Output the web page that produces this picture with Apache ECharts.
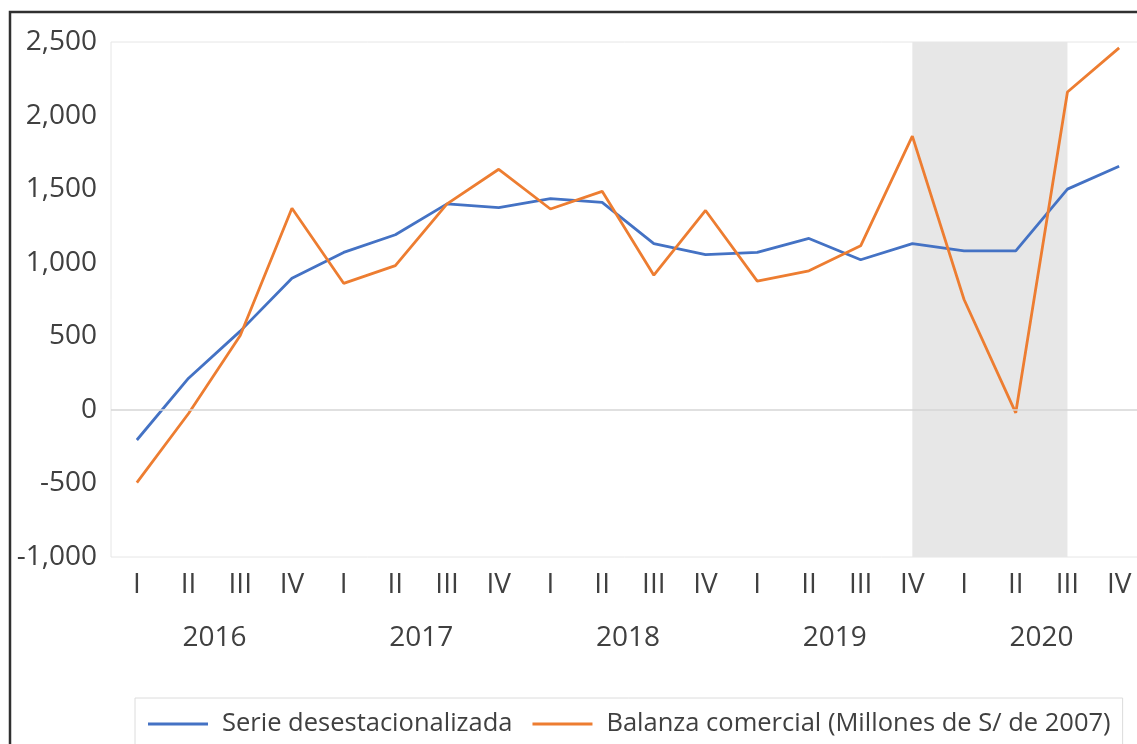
<!DOCTYPE html>
<html>
<head>
<meta charset="utf-8">
<script src="https://cdn.jsdelivr.net/npm/echarts@6/dist/echarts.min.js"></script>
<style>
html,body{margin:0;padding:0;background:#fff;}
#chart{width:1137px;height:744px;}
</style>
</head>
<body>
<div id="chart"></div>
<script>
const quarters = ['I','II','III','IV','I','II','III','IV','I','II','III','IV','I','II','III','IV','I','II','III','IV'];
const years = ['2016','2017','2018','2019','2020'];
const serieDesest = [-205, 215, 535, 895, 1070, 1190, 1400, 1375, 1435, 1410, 1130, 1055, 1070, 1165, 1020, 1130, 1080, 1080, 1500, 1655];
const balanza = [-495, -25, 505, 1370, 860, 980, 1400, 1635, 1365, 1485, 915, 1355, 875, 945, 1115, 1860, 750, -20, 2160, 2460];
const shadeStart = 15, shadeEnd = 18;
const nameSerie = 'Serie desestacionalizada';
const nameBalanza = 'Balanza comercial (Millones de S/ de 2007)';

const FONT = '"Open Sans", sans-serif';
const chart = echarts.init(document.getElementById('chart'));
chart.setOption({
  animation: false,
  backgroundColor: '#ffffff',
  graphic: [{
    type: 'rect', z: 100, silent: true,
    shape: {x: 10, y: 12, width: 1300, height: 900},
    style: {fill: 'none', stroke: '#303030', lineWidth: 2.5}
  }],
  grid: {left: 111, top: 42, width: 1034, height: 515, outerBoundsMode: 'none', containLabel: false,
    show: true, borderColor: '#e6e6e6', borderWidth: 1},
  legend: {
    left: 135, top: 698,
    data: [nameSerie, nameBalanza],
    itemWidth: 60, itemHeight: 3, itemGap: 20,
    padding: [13, 12, 20, 13],
    borderColor: '#dcdcdc', borderWidth: 1,
    textStyle: {fontFamily: FONT, fontSize: 25.5, color: '#404040', padding: [0, 0, 0, 9]},
    icon: 'rect'
  },
  xAxis: [{
    type: 'category', data: quarters, boundaryGap: true,
    axisLine: {show: false}, axisTick: {show: false}, splitLine: {show: false},
    axisLabel: {fontFamily: FONT, fontSize: 28, color: '#404040', margin: 14, interval: 0}
  }, {
    type: 'category', data: years, boundaryGap: true, position: 'bottom',
    axisLine: {show: false}, axisTick: {show: false}, splitLine: {show: false},
    axisLabel: {fontFamily: FONT, fontSize: 28, color: '#404040', margin: 67, interval: 0}
  }],
  yAxis: {
    type: 'value', min: -1000, max: 2500, interval: 500,
    axisLine: {show: false}, axisTick: {show: false}, splitLine: {show: false},
    axisLabel: {fontFamily: FONT, fontSize: 28, color: '#404040', margin: 14,
      formatter: v => v.toLocaleString('en-US')}
  },
  series: [{
    name: 'shade', type: 'line', data: [], z: 1, silent: true,
    markArea: {silent: true, itemStyle: {color: '#e7e7e7'},
      data: [[{xAxis: shadeStart}, {xAxis: shadeEnd}]]},
    markLine: {silent: true, symbol: 'none', label: {show: false},
      lineStyle: {color: '#d6d6d6', type: 'solid', width: 1.5},
      data: [{yAxis: 0}]}
  }, {
    name: nameSerie, type: 'line', data: serieDesest, z: 3,
    symbol: 'none', lineStyle: {color: '#4472C4', width: 2.8}, itemStyle: {color: '#4472C4'}
  }, {
    name: nameBalanza, type: 'line', data: balanza, z: 4,
    symbol: 'none', lineStyle: {color: '#ED7D31', width: 2.8}, itemStyle: {color: '#ED7D31'}
  }]
});
</script>
</body>
</html>
